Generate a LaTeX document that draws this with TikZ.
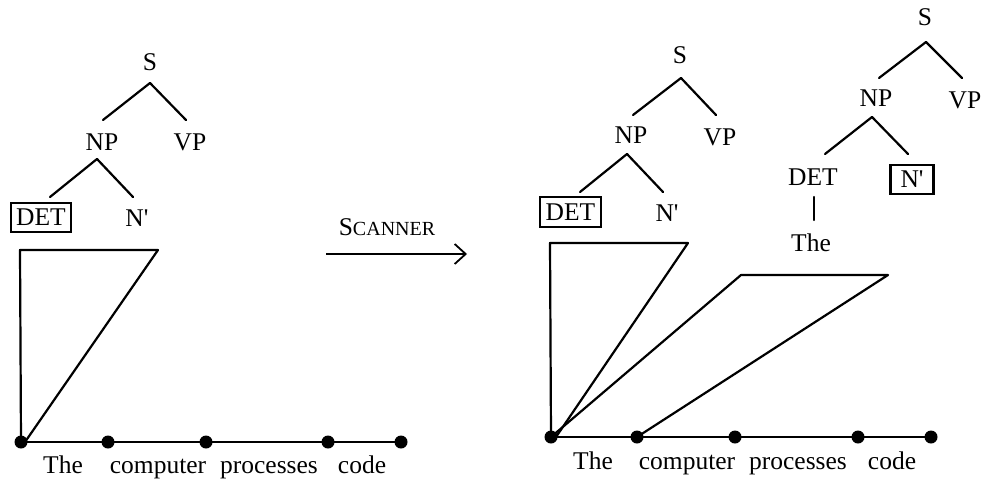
\documentclass[tikz,border=0pt]{standalone}
\usepackage{fontspec}
\setmainfont{Liberation Serif}
\usetikzlibrary{arrows.meta}
\begin{document}
\begin{tikzpicture}[x=1pt,y=-1pt,
  lab/.style={font=\fontsize{25.5}{30}\selectfont, inner sep=0pt},
  word/.style={lab, anchor=base},
  boxed/.style={lab, draw, line width=2.2pt, inner xsep=5.5pt, inner ysep=6.5pt},
  ln/.style={line width=2.2pt, line cap=round, line join=round},
  dot/.style={circle, fill=black, inner sep=0pt, minimum size=13pt}]
\useasboundingbox (0,0) rectangle (981,482);

% ---------- left diagram ----------
\node[lab] (LS) at (150,62) {S};
\node[lab] (LNP) at (102,142) {NP};
\node[lab] (LVP) at (190,142) {VP};
\node[boxed] (LDET) at (41,217.5) {DET};
\node[lab] (LN) at (137,218) {N\textquotesingle};
\coordinate (la1) at (150,83);
\coordinate (la1l) at (103,120);
\coordinate (la1r) at (186,120);
\coordinate (la2) at (97,159);
\coordinate (la2l) at (50,197);
\coordinate (la2r) at (133,197);
\draw[ln] (la1l) -- (la1) -- (la1r);
\draw[ln] (la2l) -- (la2) -- (la2r);

\node[dot] (l0) at (21,442) {};
\node[dot] (l1) at (108,442) {};
\node[dot] (l2) at (206,442) {};
\node[dot] (l3) at (328,442) {};
\node[dot] (l4) at (401,442) {};
\draw[ln] (l0.center) -- (l1.center) -- (l2.center) -- (l3.center) -- (l4.center);
\node[word] (lw1) at (63,473) {The};
\node[word] (lw2) at (158,473) {computer};
\node[word] (lw3) at (269,473) {processes};
\node[word] (lw4) at (362,473) {code};

\coordinate (lt1) at (20,250);
\coordinate (lt2) at (158,250);
\draw[ln] (l0.center) -- (lt1) -- (lt2) -- ([xshift=4pt]l0.center);

% ---------- arrow ----------
\coordinate (arA) at (326,254);
\coordinate (arB) at (467,254);
\draw[line width=1.8pt, -{Straight Barb[length=11pt,width=20pt,line width=1.8pt]}] (arA) -- (arB);
\node[lab] (scan) at (387,227) {S{\fontsize{20}{24}\selectfont CANNER}};

% ---------- right diagram, tree 1 ----------
\node[lab] (RS) at (680,55) {S};
\node[lab] (RNP) at (631,135) {NP};
\node[lab] (RVP) at (720,137) {VP};
\node[boxed] (RDET) at (570.5,212) {DET};
\node[lab] (RN) at (667,213) {N\textquotesingle};
\coordinate (ra1) at (681,78);
\coordinate (ra1l) at (633,115);
\coordinate (ra1r) at (716,115);
\coordinate (ra2) at (627,154);
\coordinate (ra2l) at (580,192);
\coordinate (ra2r) at (663,192);
\draw[ln] (ra1l) -- (ra1) -- (ra1r);
\draw[ln] (ra2l) -- (ra2) -- (ra2r);

% ---------- right diagram, tree 2 ----------
\node[lab] (QS) at (925,17) {S};
\node[lab] (QNP) at (876,98) {NP};
\node[lab] (QVP) at (965,100) {VP};
\node[lab] (QDET) at (813,177) {DET};
\node[boxed, inner xsep=10pt, inner ysep=6pt] (QN) at (912,179.5) {N\textquotesingle};
\node[lab] (QThe) at (811,243) {The};
\coordinate (qa1) at (926,42);
\coordinate (qa1l) at (879,78);
\coordinate (qa1r) at (962,78);
\coordinate (qa2) at (872,117);
\coordinate (qa2l) at (825,154);
\coordinate (qa2r) at (908,154);
\draw[ln] (qa1l) -- (qa1) -- (qa1r);
\draw[ln] (qa2l) -- (qa2) -- (qa2r);
\coordinate (qb1) at (814,197);
\coordinate (qb2) at (814,220);
\draw[ln] (qb1) -- (qb2);

% ---------- right diagram, chart ----------
\node[dot] (r0) at (551,437) {};
\node[dot] (r1) at (637,437) {};
\node[dot] (r2) at (735,437) {};
\node[dot] (r3) at (858,437) {};
\node[dot] (r4) at (931,437) {};
\draw[ln] (r0.center) -- (r1.center) -- (r2.center) -- (r3.center) -- (r4.center);
\node[word] (rw1) at (593,469) {The};
\node[word] (rw2) at (687,469) {computer};
\node[word] (rw3) at (798,469) {processes};
\node[word] (rw4) at (892,469) {code};

\coordinate (rt1) at (550,243);
\coordinate (rt2) at (688,243);
\draw[ln] (r0.center) -- (rt1) -- (rt2) -- ([xshift=5pt]r0.center);
\coordinate (rs1) at (741,275);
\coordinate (rs2) at (888,275);
\draw[ln] (r0.center) -- (rs1) -- (rs2) -- (r1.center);
\end{tikzpicture}
\end{document}
